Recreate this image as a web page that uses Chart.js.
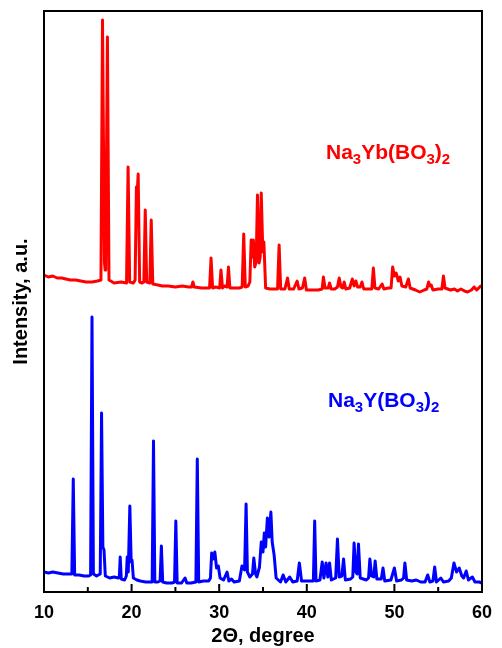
<!DOCTYPE html>
<html>
<head>
<meta charset="utf-8">
<script src="https://cdn.jsdelivr.net/npm/chart.js@4/dist/chart.umd.min.js"></script>
<style>
  html, body { margin: 0; padding: 0; background: #ffffff; }
  canvas { display: block; }
</style>
</head>
<body>
<canvas id="xrdChart" width="502" height="648"></canvas>
<script>
// Na3Yb(BO3)2 pattern (shifted up)
const ybTheta = [10.0, 10.5, 11.0, 11.5, 12.0, 12.5, 13.0, 13.6, 14.2, 14.8, 15.5, 16.1, 16.5, 16.68, 16.9, 16.98,
  17.05, 17.24, 17.42, 18.0, 18.8, 19.42, 19.6, 19.78, 20.2, 20.4, 20.55, 20.62, 20.75, 20.92, 21.2, 21.4, 21.56,
  21.72, 22.08, 22.24, 22.42, 23.0, 23.5, 24.2, 25.0, 25.8, 26.5, 26.85, 27.0, 27.15, 28.0, 28.9, 29.07, 29.25,
  29.6, 30.05, 30.2, 30.38, 30.6, 30.9, 31.06, 31.22, 31.8, 32.3, 32.62, 32.8, 32.98, 33.3, 33.5, 33.65, 33.78,
  33.9, 34.05, 34.22, 34.37, 34.55, 34.68, 34.8, 34.98, 35.1, 35.3, 35.8, 36.3, 36.66, 36.84, 37.02, 37.5, 37.8,
  38.0, 38.5, 38.9, 39.1, 39.5, 39.76, 39.95, 40.6, 41.3, 41.75, 41.9, 42.08, 42.45, 42.6, 42.78, 43.2, 43.5,
  43.7, 43.9, 44.1, 44.27, 44.45, 44.9, 45.2, 45.4, 45.6, 45.8, 46.1, 46.3, 46.5, 47.0, 47.42, 47.6, 47.78, 48.2,
  48.6, 48.8, 49.3, 49.62, 49.8, 50.0, 50.2, 50.45, 50.65, 50.85, 51.3, 51.6, 51.8, 52.4, 52.9, 53.4, 53.7, 53.9,
  54.05, 54.2, 54.4, 55.0, 55.42, 55.6, 55.78, 56.4, 56.85, 57.2, 57.6, 58.0, 58.35, 58.8, 59.1, 59.4, 59.85, 60.0];
const ybIntensity = [317, 315, 316, 314, 314, 313, 312, 312, 311, 310, 310, 311, 312, 572, 330, 322,
  330, 555, 312, 309, 310, 309, 425, 310, 309, 312, 405, 395, 418, 310, 309, 310, 382,
  310, 309, 372, 308, 307, 306, 306, 305, 306, 305, 305, 310, 305, 304, 304, 334, 304,
  305, 304, 322, 304, 306, 305, 325, 304, 304, 304, 305, 358, 305, 306, 310, 352, 335,
  352, 325, 330, 397, 329, 335, 399, 340, 350, 304, 303, 303, 303, 347, 303, 303, 314,
  303, 303, 311, 303, 304, 314, 302, 302, 302, 303, 315, 304, 304, 309, 303, 303, 305,
  314, 305, 304, 310, 303, 304, 313, 306, 311, 305, 305, 310, 303, 303, 303, 324, 304, 303,
  308, 303, 304, 304, 325, 316, 319, 311, 315, 306, 305, 313, 304, 302, 300, 302, 303, 310,
  306, 307, 302, 303, 303, 316, 304, 302, 303, 301, 303, 301, 300, 302, 305, 302, 306, 305];

// Na3Y(BO3)2 pattern
const yTheta = [10.0, 10.5, 11.0, 11.6, 12.2, 12.8, 13.18, 13.34, 13.5, 14.0, 14.6, 15.1, 15.32, 15.48, 15.64, 16.0,
  16.2, 16.42, 16.57, 16.72, 16.85, 17.0, 17.5, 18.0, 18.5, 18.6, 18.7, 18.82, 19.2, 19.4, 19.5, 19.62, 19.8, 19.95,
  20.05, 20.2, 20.6, 21.0, 21.6, 22.35, 22.5, 22.65, 23.0, 23.25, 23.4, 23.55, 24.0, 24.6, 24.9, 25.05, 25.2, 25.7,
  26.1, 26.3, 26.8, 27.34, 27.5, 27.66, 28.2, 28.8, 29.0, 29.14, 29.3, 29.5, 29.7, 29.9, 30.1, 30.5, 30.9, 31.1,
  31.4, 31.7, 32.3, 32.6, 32.9, 33.07, 33.22, 33.5, 33.8, 33.95, 34.15, 34.3, 34.6, 34.8, 35.0, 35.15, 35.3, 35.5,
  35.7, 35.9, 36.05, 36.27, 36.5, 37.0, 37.3, 37.6, 38.05, 38.4, 38.9, 39.15, 39.4, 40.2, 40.75, 40.9, 41.05, 41.5,
  41.76, 41.95, 42.2, 42.4, 42.6, 42.8, 43.3, 43.5, 43.7, 44.0, 44.2, 44.4, 45.0, 45.25, 45.4, 45.6, 45.75, 45.9,
  46.1, 46.8, 47.05, 47.2, 47.4, 47.65, 47.8, 48.0, 48.5, 48.7, 48.9, 49.6, 50.0, 50.25, 50.8, 51.05, 51.2, 51.4,
  52.0, 52.5, 53.0, 53.5, 53.8, 54.05, 54.4, 54.6, 54.8, 55.3, 55.6, 56.2, 56.5, 56.8, 57.1, 57.4, 57.7, 57.9,
  58.2, 58.45, 58.9, 59.2, 59.7, 60.0];
const yIntensity = [20, 19, 20, 19, 18, 18, 18, 113, 17, 17, 16, 16, 17, 275, 18, 16,
  17, 18, 179, 45, 42, 16, 14, 15, 14, 15, 35, 13, 12, 16, 35, 20, 86, 30,
  32, 14, 12, 11, 10, 10, 151, 10, 10, 11, 46, 10, 9, 9, 10, 71, 9, 9,
  14, 9, 9, 10, 133, 10, 11, 11, 14, 39, 33, 40, 24, 26, 14, 12, 20, 11,
  13, 10, 11, 26, 22, 88, 20, 15, 18, 34, 18, 15, 25, 50, 40, 59, 45, 74,
  55, 80, 50, 37, 14, 10, 17, 10, 15, 10, 11, 29, 11, 11, 11, 71, 11, 12,
  30, 14, 29, 15, 29, 12, 14, 53, 15, 16, 33, 12, 13, 15, 49, 20, 18, 48,
  14, 12, 14, 33, 16, 15, 31, 13, 13, 24, 11, 12, 24, 11, 12, 14, 29, 12,
  11, 12, 10, 10, 17, 10, 11, 25, 10, 14, 10, 11, 14, 29, 20, 24, 16, 14,
  21, 12, 15, 10, 10, 9];

const xTicks = [10, 20, 30, 40, 50, 60];
const xMinorTicks = [15, 25, 35, 45, 55];

const fontFamily = '"Liberation Sans", Arial, sans-serif';

function toPoints(xs, ys) {
  return xs.map((x, i) => ({ x: x, y: ys[i] }));
}

// 外框與朝內的刻度
const framePlugin = {
  id: 'frame',
  afterDraw(chart) {
    const { ctx, chartArea: a, scales } = chart;
    ctx.save();
    ctx.strokeStyle = '#000000';
    ctx.lineWidth = 2;
    ctx.strokeRect(a.left, a.top, a.right - a.left, a.bottom - a.top);
    const tick = (v, len) => {
      const px = scales.x.getPixelForValue(v);
      ctx.beginPath();
      ctx.moveTo(px, a.bottom);
      ctx.lineTo(px, a.bottom - len);
      ctx.stroke();
    };
    xTicks.forEach(v => tick(v, 8));
    xMinorTicks.forEach(v => tick(v, 5));
    ctx.restore();
  }
};

// 化學式標籤（含下標）
function drawFormula(ctx, parts, x, y, color) {
  ctx.fillStyle = color;
  ctx.textBaseline = 'alphabetic';
  ctx.textAlign = 'left';
  parts.forEach(([txt, sub]) => {
    ctx.font = sub ? 'bold 15px ' + fontFamily : 'bold 21px ' + fontFamily;
    ctx.fillText(txt, x, sub ? y + 5 : y);
    x += ctx.measureText(txt).width;
  });
}

const labelPlugin = {
  id: 'formulaLabels',
  afterDraw(chart) {
    const ctx = chart.ctx;
    ctx.save();
    drawFormula(ctx, [['Na', 0], ['3', 1], ['Yb(BO', 0], ['3', 1], [')', 0], ['2', 1]], 326, 159, '#ff0000');
    drawFormula(ctx, [['Na', 0], ['3', 1], ['Y(BO', 0], ['3', 1], [')', 0], ['2', 1]], 328, 407, '#0000ff');
    ctx.restore();
  }
};

new Chart(document.getElementById('xrdChart'), {
  type: 'line',
  data: {
    datasets: [
      {
        label: 'Na3Yb(BO3)2',
        data: toPoints(ybTheta, ybIntensity),
        borderColor: '#ff0000',
        borderWidth: 3,
        borderJoinStyle: 'round',
        pointRadius: 0,
        tension: 0,
      },
      {
        label: 'Na3Y(BO3)2',
        data: toPoints(yTheta, yIntensity),
        borderColor: '#0000ff',
        borderWidth: 3,
        borderJoinStyle: 'round',
        pointRadius: 0,
        tension: 0,
      },
    ],
  },
  options: {
    responsive: false,
    animation: false,
    layout: { padding: { top: 11, right: 14, left: 0, bottom: 0 } },
    plugins: {
      legend: { display: false },
      tooltip: { enabled: false },
    },
    scales: {
      x: {
        type: 'linear',
        min: 10,
        max: 60,
        grid: { display: false, drawTicks: false },
        border: { display: false },
        afterBuildTicks: s => { s.ticks = xTicks.map(v => ({ value: v })); },
        afterFit: s => { s.height = 56; },
        ticks: {
          color: '#000000',
          padding: 10,
          maxRotation: 0,
          font: { family: fontFamily, size: 18, weight: 'bold' },
        },
        title: {
          display: true,
          text: '2Θ, degree',
          color: '#000000',
          padding: { top: 1, bottom: 0 },
          font: { family: fontFamily, size: 20, weight: 'bold' },
        },
      },
      y: {
        min: 0,
        max: 581,
        grid: { display: false, drawTicks: false },
        border: { display: false },
        ticks: { display: false },
        afterFit: s => { s.width = 44; },
        title: {
          display: true,
          text: 'Intensity, a.u.',
          color: '#000000',
          padding: { top: 9, bottom: 0 },
          font: { family: fontFamily, size: 20, weight: 'bold' },
        },
      },
    },
  },
  plugins: [framePlugin, labelPlugin],
});
</script>
</body>
</html>
